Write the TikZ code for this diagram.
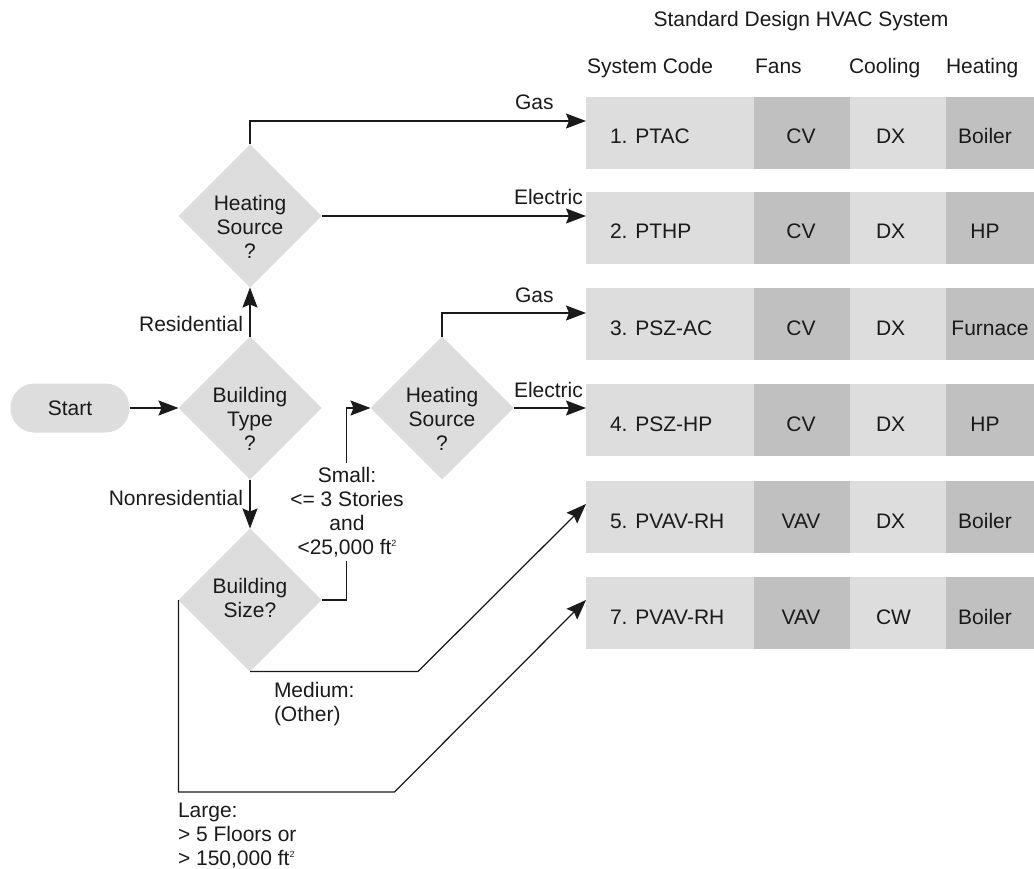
\documentclass[tikz,border=0pt]{standalone}
\usepackage{fontspec}
\setmainfont{Liberation Sans}
\usetikzlibrary{shapes.geometric,arrows.meta,calc}
\definecolor{lightg}{HTML}{DDDDDD}
\definecolor{darkg}{HTML}{C0C0C0}
\definecolor{ink}{HTML}{1A1A1A}
\newcommand\fs{\fontsize{21}{24}\selectfont}
\newcommand\sqft{ft{\fontsize{9}{9}\selectfont\raisebox{8pt}{2}}}
\newcommand\hvacrow[7]{%
  \node[cell, fill=lightg, minimum width=168pt] (#1) at (586,#2) {};
  \node[cell, fill=darkg, minimum width=96pt] (#1f) at (754,#2) {};
  \node[cell, fill=lightg, minimum width=96pt] (#1c) at (850,#2) {};
  \node[cell, fill=darkg, minimum width=88pt] (#1h) at (946,#2) {};
  \node[txt, anchor=base west] (#1ta) at (610,#2+47) {#3};
  \node[txt, anchor=base] (#1tb) at (801,#2+47) {#4};
  \node[txt, anchor=base west] (#1tc) at (876,#2+47) {#5};
  \node[txt, anchor=base] (#1td) at (#7,#2+47) {#6};
}
\begin{document}
\begin{tikzpicture}[x=1pt,y=-1pt,
  txt/.style={inner sep=0pt, outer sep=0pt, font=\fs, text=ink, align=center},
  dia/.style={diamond, fill=lightg, minimum width=143pt, minimum height=143pt, inner sep=0pt, outer sep=0pt},
  cell/.style={rectangle, inner sep=0pt, outer sep=0pt, minimum height=72pt, anchor=north west},
  conn/.style={draw=ink, line width=1.25pt},
  arr/.style={conn, -{Stealth[length=20pt,width=15pt,inset=3pt]}},
]
\useasboundingbox (0,0) rectangle (1034,869);

% header
\node[txt, anchor=base] (title) at (801,27) {Standard Design HVAC System};
\node[txt, anchor=base west] (hcode) at (587,74) {System Code};
\node[txt, anchor=base west] (hfans) at (755,74) {Fans};
\node[txt, anchor=base west] (hcool) at (849,74) {Cooling};
\node[txt, anchor=base west] (hheat) at (946,74) {Heating};

% table rows
\hvacrow{r1}{97}{1. PTAC}{CV}{DX}{Boiler}{985}
\hvacrow{r2}{192}{2. PTHP}{CV}{DX}{HP}{985}
\hvacrow{r3}{288}{3. PSZ-AC}{CV}{DX}{Furnace}{990}
\hvacrow{r4}{384}{4. PSZ-HP}{CV}{DX}{HP}{985}
\hvacrow{r5}{481}{5. PVAV-RH}{VAV}{DX}{Boiler}{985}
\hvacrow{r7}{577}{7. PVAV-RH}{VAV}{CW}{Boiler}{985}

% flowchart nodes
\node[rectangle, fill=lightg, rounded corners=24pt, minimum width=119pt, minimum height=49pt,
      inner sep=0pt, outer sep=0pt, font=\fs, text=ink] (start) at (70,408) {Start};
\node[dia] (bt) at (250,408) {};
\node[dia] (hs1) at (250,216) {};
\node[dia] (hs2) at (442,408) {};
\node[dia] (bs) at (250,600) {};
\node[txt, anchor=north] (btt) at (250,387) {Building\\Type\\?};
\node[txt, anchor=north] (hs1t) at (250,195) {Heating\\Source\\?};
\node[txt, anchor=north] (hs2t) at (442,387) {Heating\\Source\\?};
\node[txt, anchor=north] (bst) at (250,578) {Building\\Size?};

% connectors
\draw[arr] (start) -- (bt);
\draw[arr] (bt.north) -- (hs1.south);
\node[txt, anchor=base east] (lres) at (243,331) {Residential};
\draw[arr] (bt.south) -- (bs.north);
\node[txt, anchor=base east] (lnon) at (243,505) {Nonresidential};

\draw[arr] (hs1.north) |- ([yshift=12pt]r1.west);
\node[txt, anchor=base west] (lgas1) at (515,110) {Gas};
\draw[arr] (hs1.east) -- (hs1.east -| r1.west);
\node[txt, anchor=base west] (lel1) at (514,205) {Electric};

\draw[arr] (hs2.north) |- ([yshift=11pt]r3.west);
\node[txt, anchor=base west] (lgas2) at (515,302) {Gas};
\draw[arr] (hs2.east) -- (hs2.east -| r4.west);
\node[txt, anchor=base west] (lel2) at (514,397) {Electric};

\draw[arr] (bs.east) -- ++(25,0) |- (hs2.west);
\node[txt, anchor=north, fill=white, inner ysep=4pt, inner xsep=1pt] (lsmall) at (347,463)
  {Small:\\<= 3 Stories\\and\\<25,000 \sqft};

\draw[arr] (bs.south) -- ++(168,0) -- ([yshift=13pt]r5.west);
\node[txt, anchor=north west, align=left] (lmed) at (274,682) {Medium:\\(Other)};

\draw[arr] (bs.west) -- ++(0,192) -- ++(216,0) -- ([yshift=13pt]r7.west);
\node[txt, anchor=north west, align=left] (llarge) at (178,803) {Large:\\> 5 Floors or\\> 150,000 \sqft};
\end{tikzpicture}
\end{document}
